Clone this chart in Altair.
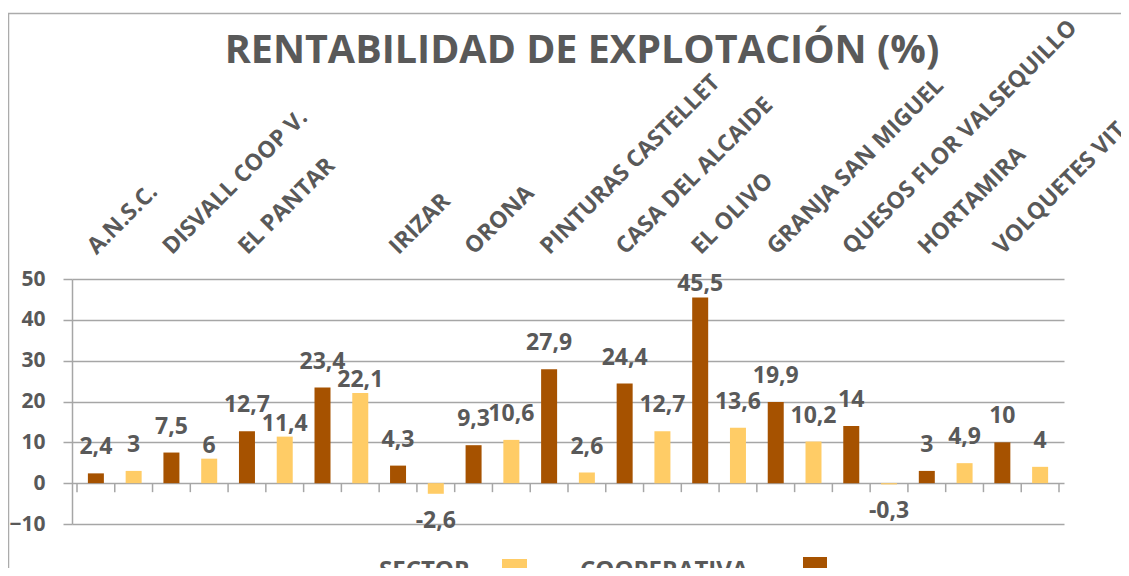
import json
import altair as alt
import pandas as pd

# ---------------- data ----------------
title_text = "RENTABILIDAD DE EXPLOTACIÓN (%)"
companies = ["A.N.S.C.", "DISVALL COOP V.", "EL PANTAR", "", "IRIZAR", "ORONA",
             "PINTURAS CASTELLET", "CASA DEL ALCAIDE", "EL OLIVO", "GRANJA SAN MIGUEL",
             "QUESOS FLOR VALSEQUILLO", "HORTAMIRA", "VOLQUETES VIT"]
cooperativa = [2.4, 7.5, 12.7, 23.4, 4.3, 9.3, 27.9, 24.4, 45.5, 19.9, 14, 3, 10]
sector = [3, 6, 11.4, 22.1, -2.6, 10.6, 2.6, 12.7, 13.6, 10.2, -0.3, 4.9, 4]
series = ["COOPERATIVA", "SECTOR"]
legend_order = ["SECTOR", "COOPERATIVA"]
colors = ["#A65200", "#FFCC66"]
y_ticks = [-10, 0, 10, 20, 30, 40, 50]

FONT = "Open Sans"
TXT = "#595959"
GRID = "#A6A6A6"

rows = []
for i, name in enumerate(companies):
    for j, (s, vals) in enumerate(zip(series, [cooperativa, sector])):
        v = vals[i]
        rows.append({"pos": 2 * i + j + 0.5, "empresa": name, "serie": s, "valor": v,
                     "etiqueta": f"{v:g}".replace(".", ",")})
df = pd.DataFrame(rows)
n_bars = len(df)
ticks_df = pd.DataFrame({"pos": list(range(n_bars + 1))})

label_values = [2 * i + 0.5 for i in range(len(companies))]
label_expr = json.dumps(companies) + "[floor(datum.value / 2)]"

x_scale = alt.Scale(domain=[0, n_bars], nice=False, zero=False)
y_scale = alt.Scale(domain=[-10, 50], nice=False, zero=False)
color_scale = alt.Scale(domain=series, range=colors)

x_main = alt.X("pos:Q", scale=x_scale, title=None,
               axis=alt.Axis(orient="top", values=label_values, labelExpr=label_expr,
                             labelAngle=-45, labelAlign="left", labelBaseline="alphabetic",
                             labelPadding=24, ticks=False, tickSize=0, domain=False, grid=False,
                             labelFont=FONT, labelFontSize=23, labelFontWeight="bold",
                             labelColor=TXT, labelOverlap=False, labelFlush=False,
                             labelLimit=600, labelBound=False))
x_plain = alt.X("pos:Q", title=None)

y_main = alt.Y("valor:Q", scale=y_scale, title=None,
               axis=alt.Axis(values=y_ticks, grid=True, gridColor=GRID, gridWidth=1.5,
                             domainColor=GRID, domainWidth=1.5, tickColor=GRID, tickWidth=1.5,
                             tickSize=9, labelPadding=18, labelFont=FONT, labelFontSize=21,
                             labelFontWeight="bold", labelColor=TXT))
y_plain = alt.Y("valor:Q", title=None)

bars = alt.Chart(df).mark_bar(size=16, orient="vertical").encode(
    x=x_main, y=y_main,
    color=alt.Color("serie:N", scale=color_scale, legend=None),
)

ticks = alt.Chart(ticks_df).mark_rule(color=GRID, strokeWidth=1.5).encode(
    x=x_plain, y=alt.datum(0), y2=alt.datum(-2.2)
)

# label placement: outside end; a label is tucked closer to its bar when the bar just
# to its left is slightly taller (to avoid collisions) or when it would leave the plot.
labels_base = alt.Chart(df).transform_window(
    prev="lag(valor)", sort=[alt.SortField("pos")]
).transform_calculate(
    tuck="(isValid(datum.prev) && datum.prev > datum.valor && datum.prev - datum.valor < 3) || datum.valor > 42.5"
)
text_style = dict(font=FONT, fontSize=23, fontWeight="bold", color=TXT, baseline="alphabetic")

lab_pos = labels_base.transform_filter("datum.valor >= 0 && !datum.tuck").mark_text(
    dy=-19, **text_style
).encode(x=x_plain, y=y_plain, text="etiqueta:N")

lab_tuck = labels_base.transform_filter("datum.valor >= 0 && datum.tuck").mark_text(
    dy=-6, **text_style
).encode(x=x_plain, y=y_plain, text="etiqueta:N")

lab_neg = labels_base.transform_filter("datum.valor < 0").mark_text(
    dy=34, **text_style
).encode(x=x_plain, y=y_plain, text="etiqueta:N")

one = pd.DataFrame({"t": [title_text]})
title = alt.Chart(one).mark_text(
    font=FONT, fontSize=39.5, fontWeight="bold", color=TXT, align="center", baseline="alphabetic"
).encode(x=alt.value(510), y=alt.value(-216), text="t:N")

border = alt.Chart(one).mark_rect(fillOpacity=0, stroke="#ABABAB", strokeWidth=1.5).encode(
    x=alt.value(-63.5), x2=alt.value(1200), y=alt.value(-265.5), y2=alt.value(600)
)

leg_text_1 = alt.Chart(pd.DataFrame({"t": [legend_order[0]]})).mark_text(
    font=FONT, fontSize=24, fontWeight="bold", color=TXT, align="left", baseline="alphabetic"
).encode(x=alt.value(307), y=alt.value(299), text="t:N")
leg_text_2 = alt.Chart(pd.DataFrame({"t": [legend_order[1]]})).mark_text(
    font=FONT, fontSize=24, fontWeight="bold", color=TXT, align="left", baseline="alphabetic"
).encode(x=alt.value(508), y=alt.value(299), text="t:N")
leg_sq_1 = alt.Chart(pd.DataFrame({"serie": [legend_order[0]]})).mark_rect().encode(
    x=alt.value(430), x2=alt.value(455), y=alt.value(280), y2=alt.value(305),
    color=alt.Color("serie:N", scale=color_scale, legend=None))
leg_sq_2 = alt.Chart(pd.DataFrame({"serie": [legend_order[1]]})).mark_rect().encode(
    x=alt.value(731), x2=alt.value(755), y=alt.value(278), y2=alt.value(303),
    color=alt.Color("serie:N", scale=color_scale, legend=None))

chart = alt.layer(
    border, bars, ticks, lab_pos, lab_tuck, lab_neg, title,
    leg_text_1, leg_text_2, leg_sq_1, leg_sq_2
).properties(
    width=992, height=245,
    autosize=alt.AutoSizeParams(type="none"),
    padding={"left": 64, "top": 271, "right": 57, "bottom": 44},
    background="white",
).configure_view(stroke=None)

chart.save("out.html", embed_options={"renderer": "svg", "actions": False})
